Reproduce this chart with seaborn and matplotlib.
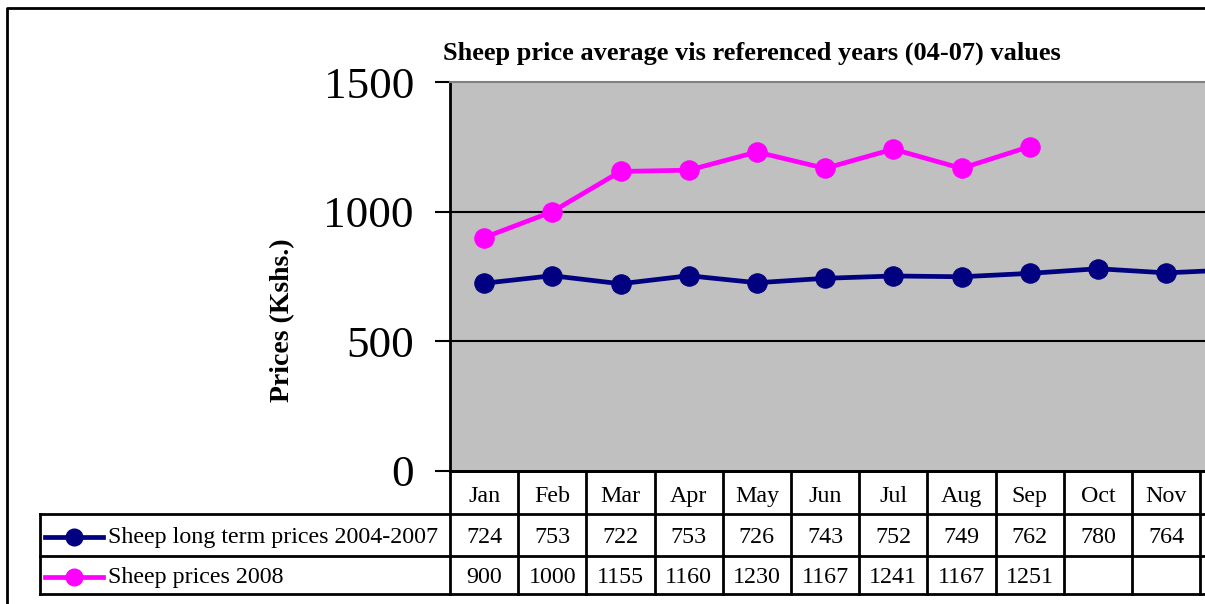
import numpy as np
import pandas as pd
import matplotlib
matplotlib.use("Agg")
import matplotlib.pyplot as plt
import matplotlib.transforms as mtrans
from matplotlib.lines import Line2D
import seaborn as sns

# ---- data ----
months = ["Jan", "Feb", "Mar", "Apr", "May", "Jun", "Jul", "Aug", "Sep", "Oct", "Nov", "Dec"]
long_term = [724, 753, 722, 753, 726, 743, 752, 749, 762, 780, 764, 776]
prices_2008 = [900, 1000, 1155, 1160, 1230, 1167, 1241, 1167, 1251]
series_names = ["Sheep long term prices 2004-2007", "Sheep prices 2008"]
yticks = [0, 500, 1000, 1500]
title = "Sheep price average vis referenced years (04-07) values"
ylabel = "Prices (Kshs.)"

plt.rcParams['font.family'] = ['Liberation Serif', 'DejaVu Serif']

W, H = 1205, 604
fig = plt.figure(figsize=(W / 100, H / 100), dpi=100)
fig.patch.set_facecolor("white")

# pixel (top-left origin) transform
T = mtrans.Affine2D().scale(1, -1).translate(0, H)

left, top, bottom = 450, 82, 471
colw = 68.2
right = left + colw * 12
ax = fig.add_axes([left / W, (H - bottom) / H, (right - left) / W, (bottom - top) / H])
ax.set_facecolor("#C0C0C0")

navy = "#000080"
magenta = "#FF00FF"

df1 = pd.DataFrame({"x": np.arange(len(long_term)), "y": long_term})
df2 = pd.DataFrame({"x": np.arange(len(prices_2008)), "y": prices_2008})
sns.lineplot(data=df1, x="x", y="y", ax=ax, color=navy, linewidth=3.4, marker="o",
             markersize=14, markeredgecolor=navy, markerfacecolor=navy, zorder=3)
sns.lineplot(data=df2, x="x", y="y", ax=ax, color=magenta, linewidth=3.4, marker="o",
             markersize=14, markeredgecolor=magenta, markerfacecolor=magenta, zorder=3)

ax.set_xlim(-0.5, 11.5)
ax.set_ylim(0, 1500)
ax.set_xticks([])
ax.set_yticks(yticks)
ax.set_yticklabels([str(v) for v in yticks], fontsize=32.5)
ax.tick_params(axis="y", direction="out", length=11, width=1.5, pad=15, color="black")
ax.set_xlabel("")
ax.set_ylabel("")
for v in yticks[1:-1]:
    ax.axhline(v, color="black", linewidth=1.5, zorder=1)
ax.spines["left"].set_linewidth(2)
ax.spines["left"].set_color("black")
ax.spines["bottom"].set_linewidth(2)
ax.spines["bottom"].set_color("black")
ax.spines["top"].set_linewidth(1.5)
ax.spines["top"].set_color("#808080")
ax.spines["right"].set_visible(False)

# title and y label
fig.text(752 / W, (H - 53) / H, title, ha="center", va="center", fontsize=19, fontweight="bold")
fig.text(283 / W, (H - 320) / H, ylabel, ha="center", va="center", rotation=90,
         fontsize=20, fontweight="bold")

# ---- data table ----
B = mtrans.blended_transform_factory(ax.transData, T)
row_y = [471, 514, 556, 594]
lw = 2
# horizontal lines
fig.add_artist(Line2D([left, W + 50], [row_y[0], row_y[0]], transform=T, color="black", lw=lw))
for yy in row_y[1:]:
    fig.add_artist(Line2D([40, W + 50], [yy, yy], transform=T, color="black", lw=lw))
# vertical lines
fig.add_artist(Line2D([40, 40], [row_y[1], row_y[3]], transform=T, color="black", lw=lw))
for i in range(len(months) + 1):
    ax.add_line(Line2D([i - 0.5, i - 0.5], [row_y[0], row_y[3]], transform=B,
                       color="black", lw=lw, clip_on=False))

fs = 17.3
baselines = [502, 543, 583]
n_vis = 11  # the last (Dec) column lies beyond the picture's right edge
for i, m in enumerate(months[:n_vis]):
    ax.text(i, baselines[0], m, transform=B, ha="center", va="baseline", fontsize=fs, clip_on=False)
for i, v in enumerate(long_term[:n_vis]):
    ax.text(i, baselines[1], str(v), transform=B, ha="center", va="baseline", fontsize=fs, clip_on=False)
for i, v in enumerate(prices_2008[:n_vis]):
    ax.text(i, baselines[2], str(v), transform=B, ha="center", va="baseline", fontsize=fs, clip_on=False)

# legend keys in table
for k, (name, col) in enumerate(zip(series_names, [navy, magenta])):
    yy = baselines[k + 1] - 6
    fig.add_artist(Line2D([45, 103], [yy, yy], transform=T, color=col, lw=3.4))
    fig.add_artist(Line2D([74], [yy], transform=T, color=col, marker="o", markersize=12,
                          markeredgecolor=col, markerfacecolor=col, linestyle="none"))
    fig.text(108 / W, (H - baselines[k + 1]) / H, name, ha="left", va="baseline", fontsize=fs)

# outer chart border
fig.add_artist(Line2D([7, 7, W + 50], [H + 50, 8, 8], transform=T, color="black", lw=2))

fig.savefig("out.png", dpi=100)
